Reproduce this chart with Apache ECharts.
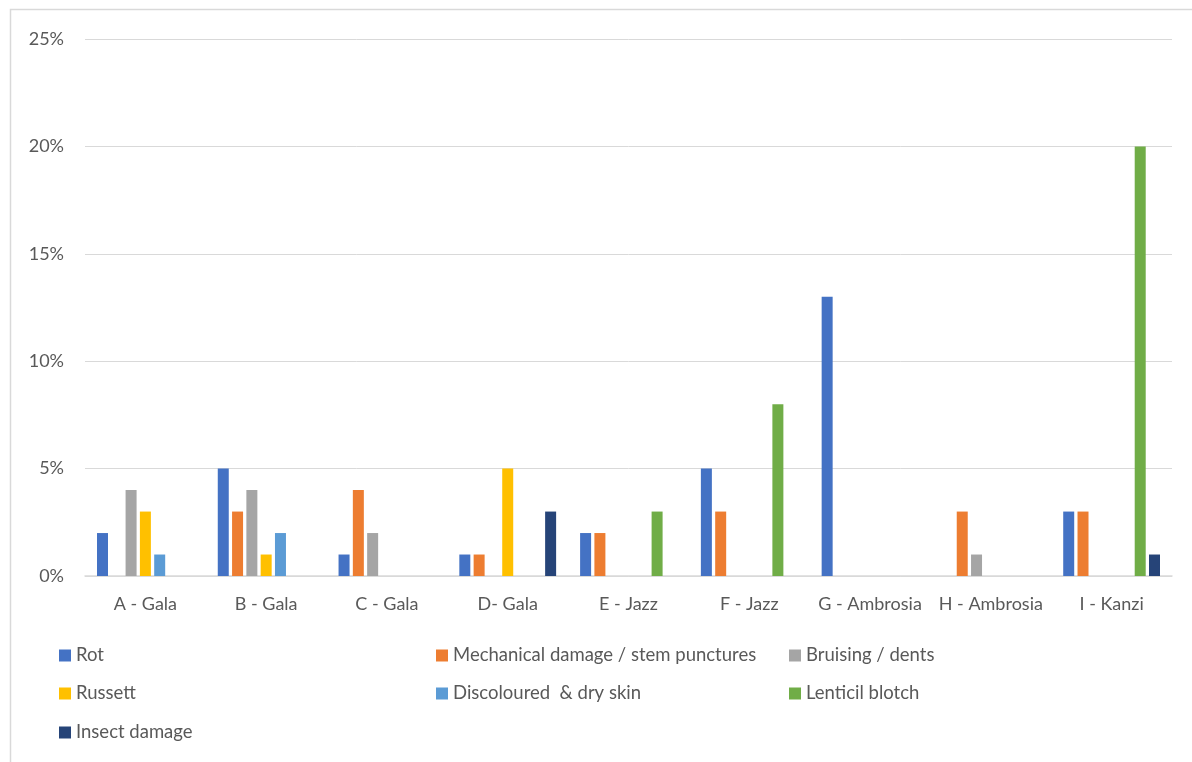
<!DOCTYPE html>
<html>
<head>
<meta charset="utf-8">
<script src="https://cdn.jsdelivr.net/npm/echarts@6/dist/echarts.min.js"></script>
<style>
  html, body { margin: 0; padding: 0; background: #ffffff; }
  #chart { width: 1192px; height: 762px; }
</style>
</head>
<body>
<div id="chart"></div>
<script>
// Orchard lots (cultivar per lot)
const categories = ['A - Gala', 'B - Gala', 'C - Gala', 'D- Gala', 'E - Jazz', 'F - Jazz', 'G - Ambrosia', 'H - Ambrosia', 'I - Kanzi'];

// Share of fruit showing each defect, in percent
const rot          = [2, 5, 1, 1, 2, 5, 13, 0, 3];
const mechanical   = [0, 3, 4, 1, 2, 3, 0, 3, 3];
const bruising     = [4, 4, 2, 0, 0, 0, 0, 1, 0];
const russett      = [3, 1, 0, 5, 0, 0, 0, 0, 0];
const discoloured  = [1, 2, 0, 0, 0, 0, 0, 0, 0];
const lenticil     = [0, 0, 0, 0, 3, 8, 0, 0, 20];
const insect       = [0, 0, 0, 3, 0, 0, 0, 0, 1];

const seriesNames = ['Rot', 'Mechanical damage / stem punctures', 'Bruising / dents', 'Russett', 'Discoloured  & dry skin', 'Lenticil blotch', 'Insect damage'];
const seriesValues = [rot, mechanical, bruising, russett, discoloured, lenticil, insect];
const colors = ['#4472C4', '#ED7D31', '#A5A5A5', '#FFC000', '#5B9BD5', '#70AD47', '#264478'];

// Legend laid out in three columns, three rows
const legendSpots = [
  [59, 654], [436, 654], [789, 654],
  [59, 692], [436, 692], [789, 692],
  [59, 731]
];

const FONT = 'Lato, "Open Sans", sans-serif';
const TEXT = '#595959';

const chart = echarts.init(document.getElementById('chart'), null, { renderer: 'canvas' });

chart.setOption({
  animation: false,
  backgroundColor: '#ffffff',
  textStyle: { fontFamily: FONT },
  graphic: [{
    type: 'rect',
    shape: { x: 10.5, y: 9.5, width: 1300, height: 900 },
    style: { fill: 'none', stroke: '#d9d9d9', lineWidth: 1.5 },
    silent: true
  }],
  grid: { left: 85, right: 20, top: 39, bottom: 186, containLabel: false },
  xAxis: {
    type: 'category',
    data: categories,
    axisLine: { show: true, lineStyle: { color: '#d9d9d9', width: 1.5 } },
    axisTick: { show: false },
    axisLabel: { color: TEXT, fontSize: 18, fontFamily: FONT, margin: 19, interval: 0 }
  },
  yAxis: {
    type: 'value',
    min: 0,
    max: 25,
    interval: 5,
    axisLine: { show: false },
    axisTick: { show: false },
    splitLine: { lineStyle: { color: '#d9d9d9', width: 1 } },
    axisLabel: { color: TEXT, fontSize: 18, fontFamily: FONT, margin: 21, formatter: '{value}%' }
  },
  legend: seriesNames.map((name, i) => ({
    data: [name],
    left: legendSpots[i][0],
    top: legendSpots[i][1] - 8,
    padding: 0,
    itemWidth: 12,
    itemHeight: 12,
    itemGap: 0,
    icon: 'rect',
    selectedMode: false,
    textStyle: { color: TEXT, fontSize: 18.5, fontFamily: FONT, padding: [0, 0, 0, 0] }
  })),
  series: seriesNames.map((name, i) => ({
    name: name,
    type: 'bar',
    data: seriesValues[i],
    barWidth: 11,
    barGap: '30%',
    itemStyle: { color: colors[i] }
  }))
});
</script>
</body>
</html>
